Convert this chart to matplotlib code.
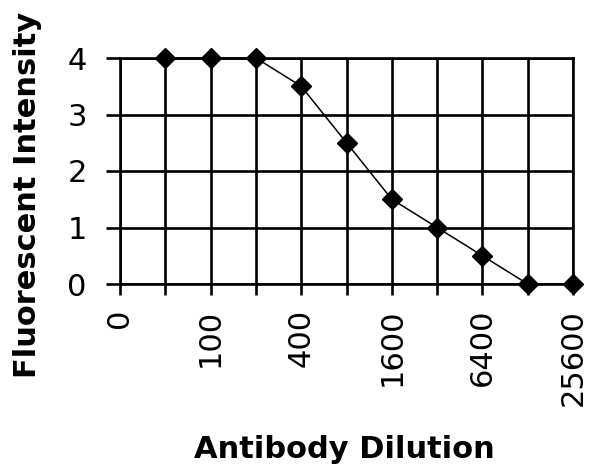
import numpy as np
import matplotlib
matplotlib.use("Agg")
import matplotlib.pyplot as plt

categories = ["0", "50", "100", "200", "400", "800", "1600", "3200", "6400", "12800", "25600"]
intensity = [np.nan, 4, 4, 4, 3.5, 2.5, 1.5, 1, 0.5, 0, 0]
shown_labels = ["0", "", "100", "", "400", "", "1600", "", "6400", "", "25600"]
y_ticks = [0, 1, 2, 3, 4]

W, H = 598, 471
fig = plt.figure(figsize=(W / 100, H / 100), dpi=100)
ax = fig.add_axes([120 / W, 1 - 284 / H, (573 - 120) / W, (284 - 58) / H])

x = np.arange(len(categories))
ax.plot(x, intensity, color="black", lw=1.1, marker="D", markersize=10,
        markerfacecolor="black", markeredgecolor="black", clip_on=False, zorder=5)

ax.set_xlim(0, len(categories) - 1)
ax.set_ylim(0, 4)
ax.set_xticks(x)
ax.set_xticklabels(shown_labels, rotation=90, fontsize=22)
ax.set_yticks(y_ticks)
ax.set_yticklabels([str(v) for v in y_ticks], fontsize=22)
ax.tick_params(axis="x", direction="out", length=8, width=1.9, pad=10)
ax.tick_params(axis="y", direction="out", length=10, width=1.9, pad=14)
ax.grid(True, color="black", lw=1.9)
ax.set_axisbelow(True)
for s in ax.spines.values():
    s.set_linewidth(1.9)
    s.set_color("black")

fig.text(344 / W, 1 - 450 / H, "Antibody Dilution", ha="center", va="center",
         fontsize=22, fontweight="bold")
fig.text(28 / W, 1 - 195 / H, "Fluorescent Intensity", ha="center", va="center",
         rotation=90, fontsize=22, fontweight="bold")

fig.savefig("out.png", dpi=100, facecolor="white")
